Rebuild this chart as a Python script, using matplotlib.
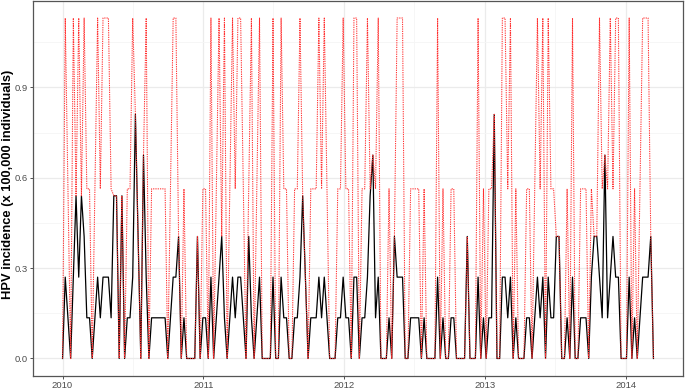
import matplotlib
matplotlib.use('Agg')
import matplotlib.pyplot as plt
import matplotlib.dates as mdates
import pandas as pd

plt.rcParams['font.family'] = ['Liberation Sans', 'DejaVu Sans']

# weekly HPV incidence (x 100,000), observed
observed = [
    0.0, 0.27, 0.135, 0.0, 0.27, 0.54, 0.27, 0.54, 0.405, 0.135,
    0.135, 0.0, 0.135, 0.27, 0.135, 0.27, 0.27, 0.27, 0.135, 0.54,
    0.54, 0.0, 0.54, 0.0, 0.135, 0.135, 0.27, 0.81, 0.405, 0.0,
    0.675, 0.27, 0.0, 0.135, 0.135, 0.135, 0.135, 0.135, 0.135, 0.0,
    0.135, 0.27, 0.27, 0.405, 0.0, 0.135, 0.0, 0.0, 0.0, 0.0,
    0.405, 0.0, 0.135, 0.135, 0.0, 0.27, 0.0, 0.135, 0.27, 0.405,
    0.135, 0.0, 0.135, 0.27, 0.135, 0.27, 0.27, 0.135, 0.0, 0.405,
    0.135, 0.0, 0.135, 0.27, 0.0, 0.0, 0.0, 0.0, 0.27, 0.0,
    0.0, 0.27, 0.135, 0.135, 0.0, 0.0, 0.135, 0.135, 0.27, 0.54,
    0.27, 0.0, 0.135, 0.135, 0.135, 0.27, 0.135, 0.27, 0.135, 0.0,
    0.0, 0.0, 0.135, 0.135, 0.27, 0.135, 0.135, 0.0, 0.27, 0.27,
    0.0, 0.135, 0.135, 0.27, 0.54, 0.675, 0.135, 0.27, 0.0, 0.0,
    0.0, 0.135, 0.0, 0.405, 0.27, 0.27, 0.27, 0.0, 0.0, 0.135,
    0.135, 0.135, 0.135, 0.0, 0.135, 0.0, 0.0, 0.0, 0.0, 0.27,
    0.0, 0.135, 0.0, 0.0, 0.135, 0.135, 0.0, 0.0, 0.0, 0.0,
    0.405, 0.0, 0.0, 0.0, 0.27, 0.0, 0.135, 0.0, 0.135, 0.135,
    0.81, 0.0, 0.0, 0.27, 0.27, 0.135, 0.27, 0.0, 0.135, 0.0,
    0.0, 0.0, 0.135, 0.135, 0.0, 0.135, 0.27, 0.135, 0.27, 0.0,
    0.27, 0.135, 0.135, 0.405, 0.405, 0.0, 0.0, 0.135, 0.0, 0.27,
    0.0, 0.0, 0.135, 0.135, 0.135, 0.0, 0.27, 0.405, 0.405, 0.27,
    0.135, 0.675, 0.135, 0.27, 0.405, 0.27, 0.27, 0.0, 0.0, 0.0,
    0.27, 0.0, 0.135, 0.0, 0.135, 0.27, 0.27, 0.27, 0.405, 0.0,
]

# upper bound (red dotted)
upper = [
    0.0, 1.13, 0.563, 0.0, 1.13, 0.54, 1.13, 0.54, 1.13, 0.563,
    0.563, 0.0, 0.563, 1.13, 0.563, 1.13, 1.13, 1.13, 0.563, 0.54,
    0.54, 0.0, 0.54, 0.0, 0.563, 0.563, 1.13, 0.81, 0.405, 0.0,
    0.675, 1.13, 0.0, 0.563, 0.563, 0.563, 0.563, 0.563, 0.563, 0.0,
    0.563, 1.13, 1.13, 0.405, 0.0, 0.563, 0.0, 0.0, 0.0, 0.0,
    0.405, 0.0, 0.563, 0.563, 0.0, 1.13, 0.0, 0.563, 1.13, 0.405,
    1.13, 0.0, 0.563, 1.13, 0.563, 1.13, 1.13, 0.563, 0.0, 0.563,
    1.13, 0.0, 0.563, 1.13, 0.0, 0.0, 0.0, 0.0, 1.13, 0.0,
    0.0, 1.13, 0.563, 0.563, 0.0, 0.0, 0.563, 0.563, 1.13, 0.54,
    0.27, 0.0, 0.563, 0.563, 0.563, 1.13, 0.563, 1.13, 0.563, 0.0,
    0.0, 0.0, 0.563, 0.563, 1.13, 0.563, 0.563, 0.0, 1.13, 1.13,
    0.0, 0.563, 0.563, 1.13, 0.563, 0.675, 0.563, 1.13, 0.0, 0.0,
    0.0, 0.563, 0.0, 0.405, 1.13, 1.13, 1.13, 0.0, 0.0, 0.563,
    0.563, 0.563, 0.563, 0.0, 0.563, 0.0, 0.0, 0.0, 0.0, 1.13,
    0.0, 0.563, 0.0, 0.0, 0.563, 0.563, 0.0, 0.0, 0.0, 0.0,
    0.405, 0.0, 0.0, 0.0, 1.13, 0.0, 0.563, 0.0, 0.563, 0.563,
    0.81, 0.0, 0.0, 1.13, 1.13, 0.563, 1.13, 0.0, 0.563, 0.0,
    0.0, 0.0, 0.563, 0.563, 0.0, 0.563, 1.13, 0.563, 1.13, 0.0,
    1.13, 0.563, 0.563, 0.405, 0.405, 0.0, 0.0, 0.563, 0.0, 1.13,
    0.0, 0.0, 0.563, 0.563, 0.563, 0.0, 0.563, 0.405, 0.405, 1.13,
    0.563, 0.675, 0.563, 1.13, 0.563, 1.13, 1.13, 0.0, 0.0, 0.0,
    1.13, 0.0, 0.563, 0.0, 0.563, 1.13, 1.13, 1.13, 0.405, 0.0,
]

weeks = pd.date_range('2010-01-01', periods=len(observed), freq='7D')
year_ticks = pd.to_datetime(['2010-01-01', '2011-01-01', '2012-01-01', '2013-01-01', '2014-01-01'])
mid_years = pd.to_datetime(['2009-07-02', '2010-07-02', '2011-07-02', '2012-07-02', '2013-07-02', '2014-07-02'])
y_ticks = [0.0, 0.3, 0.6, 0.9]
y_minor = [0.15, 0.45, 0.75, 1.05]

fig = plt.figure(figsize=(6.85, 3.9), dpi=100)
ax = fig.add_axes([33 / 685, 1 - 375.5 / 390, 650 / 685, 374.5 / 390])

ax.plot(weeks, observed, color='black', lw=0.9, zorder=3)
ax.plot(weeks, upper, color='#ff3030', lw=0.75, linestyle=(0, (1.2, 1.0)), zorder=4)

ax.set_ylim(-0.0565, 1.1865)
ax.set_yticks(y_ticks)
ax.set_yticklabels(['0.0', '0.3', '0.6', '0.9'])
ax.set_yticks(y_minor, minor=True)
ax.set_xticks(year_ticks)
ax.xaxis.set_major_formatter(mdates.DateFormatter('%Y'))
ax.set_xticks(mid_years, minor=True)
span = weeks[-1] - weeks[0]
ax.set_xlim(weeks[0] - span * 0.05, weeks[-1] + span * 0.05)

ax.grid(which='major', color='#ebebeb', lw=0.9, zorder=0)
ax.grid(which='minor', color='#f5f5f5', lw=0.6, zorder=0)
ax.set_axisbelow(True)
ax.tick_params(which='major', length=2.5, width=0.6, color='#333333', labelsize=6.8, labelcolor='#4d4d4d', pad=1.2)
ax.tick_params(which='minor', length=0)
for s in ax.spines.values():
    s.set_color('#555555')
    s.set_linewidth(0.9)

fig.text(8 / 685, 1 - 184 / 390, 'HPV incidence (x 100,000 individuals)', rotation=90,
         fontsize=9.3, fontweight='bold', ha='center', va='center')

fig.savefig('out.png', dpi=100)
